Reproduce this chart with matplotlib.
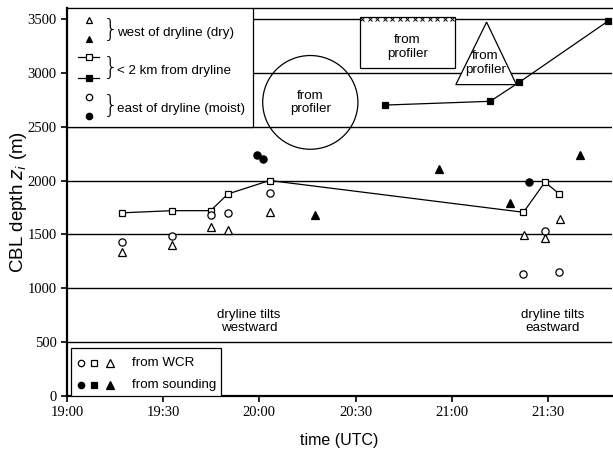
"""
CBL depth versus time near the dryline, from WCR, soundings and profiler
"""

import numpy as np
import matplotlib.pyplot as plt
from matplotlib.patches import Ellipse, Rectangle, Polygon

# time in minutes after 19:00 UTC, depth in m
wcr_near_t = [17.1, 32.8, 44.8, 50.2, 63.2, 142.4, 149.1, 153.6]
wcr_near_z = [1700, 1720, 1720, 1875, 2000, 1705, 1985, 1875]

wcr_east_t = [17.1, 32.8, 44.8, 50.2, 63.2, 149.1, 142.4, 153.6]
wcr_east_z = [1425, 1485, 1680, 1695, 1880, 1530, 1135, 1150]

wcr_west_t = [17.1, 32.8, 44.8, 50.2, 63.2, 142.6, 149.1, 153.7]
wcr_west_z = [1335, 1405, 1570, 1540, 1705, 1495, 1470, 1640]

snd_west_t = [77.3, 116.2, 138.1, 160.1]
snd_west_z = [1680, 2105, 1790, 2240]

snd_east_t = [59.2, 61.2, 144.0]
snd_east_z = [2240, 2195, 1990]

snd_near_t = [99.1, 132.0, 141.0, 168.8]
snd_near_z = [2700, 2735, 2910, 3480]

# profiler estimates (shapes marking the estimated range)
prof_circle = (75.9, 2725, 29.7, 870)          # centre t, centre z, width, height
prof_box = (91.3, 3040, 29.7, 475)             # left t, bottom z, width, height
prof_tri_t = [121.3, 130.9, 140.2]
prof_tri_z = [2890, 3470, 2890]

xticks = [0, 30, 60, 90, 120, 150]
xticklabels = ["19:00", "19:30", "20:00", "20:30", "21:00", "21:30"]
yticks = [0, 500, 1000, 1500, 2000, 2500, 3000, 3500]

sans = "Liberation Sans"
serif = "Liberation Serif"
fs = 9.6


def mark(ax, x, y, m, s, fc, **kw):
    ax.plot(x, y, marker=m, ms=s, mfc=fc, mec="k", mew=0.9, linestyle="none", **kw)


def main():
    fig = plt.figure(figsize=(6.13, 4.51), dpi=100)
    ax = fig.add_axes([0.1093, 0.122, 0.889, 0.860])

    for y in yticks[1:]:
        ax.axhline(y, color="k", lw=1.0, zorder=1)

    ax.plot(wcr_near_t, wcr_near_z, "k-", lw=0.9, zorder=3)
    mark(ax, wcr_near_t, wcr_near_z, "s", 4.2, "white", zorder=4)
    mark(ax, wcr_east_t, wcr_east_z, "o", 5.2, "white", zorder=4)
    mark(ax, wcr_west_t, wcr_west_z, "^", 5.5, "white", zorder=4)
    mark(ax, snd_west_t, snd_west_z, "^", 5.5, "k", zorder=4)
    mark(ax, snd_east_t, snd_east_z, "o", 5.2, "k", zorder=4)
    ax.plot(snd_near_t, snd_near_z, "k-", lw=0.9, zorder=3)
    mark(ax, snd_near_t, snd_near_z, "s", 4.2, "k", zorder=4)

    # profiler shapes
    ct, cz, cw, ch = prof_circle
    ax.add_patch(Ellipse((ct, cz), cw, ch, fill=False, ec="k", lw=0.9, zorder=3))
    ax.text(ct, cz, "from\nprofiler", ha="center", va="center", fontsize=fs,
            family=sans, linespacing=1.15)
    bt, bz, bw, bh = prof_box
    ax.add_patch(Rectangle((bt, bz), bw, bh, fill=True, fc="white", ec="k", lw=0.9, zorder=3))
    ax.plot(np.linspace(bt + 0.8, bt + bw - 0.8, 13), [3500] * 13, "kx", ms=3, mew=0.7, zorder=4)
    ax.text(bt + bw / 2, bz + bh * 0.42, "from\nprofiler", ha="center", va="center",
            fontsize=fs, family=sans, linespacing=1.15, zorder=5)
    ax.add_patch(Polygon(list(zip(prof_tri_t, prof_tri_z)), closed=True, fc="white",
                         ec="k", lw=0.9, zorder=2))
    ax.text(prof_tri_t[1] - 0.3, 3090, "from\nprofiler", ha="center", va="center",
            fontsize=fs, family=sans, linespacing=1.15, zorder=5)

    # top-left legend box
    tr = ax.transAxes
    ax.add_patch(Rectangle((0, 0.694), 0.341, 0.306, transform=tr, fc="white",
                           ec="k", lw=0.9, zorder=5))
    lx = 0.040
    mark(ax, [lx], [0.969], "^", 5, "white", transform=tr, zorder=6)
    mark(ax, [lx], [0.920], "^", 5, "k", transform=tr, zorder=6)
    for yy, fc in [(0.873, "white"), (0.820, "k")]:
        ax.plot([0.020, 0.059], [yy, yy], "k-", lw=0.9, transform=tr, zorder=6)
        mark(ax, [lx], [yy], "s", 4, fc, transform=tr, zorder=7)
    mark(ax, [lx], [0.772], "o", 4.6, "white", transform=tr, zorder=6)
    mark(ax, [lx], [0.722], "o", 4.6, "k", transform=tr, zorder=6)
    for yy, label in [(0.944, "west of dryline (dry)"), (0.846, "< 2 km from dryline"),
                      (0.747, "east of dryline (moist)")]:
        ax.text(0.066, yy, "}", transform=tr, ha="left", va="center", fontsize=18,
                family="DejaVu Sans", fontweight="light", zorder=6)
        ax.text(0.091, yy - 0.008, label, transform=tr, ha="left", va="center",
                fontsize=fs, family=sans, zorder=6)

    # bottom-left legend box
    ax.add_patch(Rectangle((0.0073, 0.0), 0.275, 0.123, transform=tr, fc="white",
                           ec="k", lw=0.9, zorder=5))
    for yy, fc, label in [(0.086, "white", "from WCR"), (0.028, "k", "from sounding")]:
        for xx, m, s in [(0.025, "o", 4.6), (0.050, "s", 4.0), (0.079, "^", 5.5)]:
            mark(ax, [xx], [yy], m, s, fc, transform=tr, zorder=6)
        ax.text(0.120, yy, label, transform=tr, ha="left", va="center", fontsize=fs,
                family=sans, zorder=6)

    ax.text(56.8, 690, "dryline tilts\nwestward", ha="center", va="center",
            fontsize=fs, family=sans, linespacing=1.15)
    ax.text(151.5, 690, "dryline tilts\neastward", ha="center", va="center",
            fontsize=fs, family=sans, linespacing=1.15)

    ax.set_xlim(0, 170)
    ax.set_ylim(0, 3600)
    ax.set_xticks(xticks)
    ax.set_xticklabels(xticklabels, family=serif, fontsize=10.5)
    ax.set_yticks(yticks)
    ax.set_yticklabels([str(v) for v in yticks], family=serif, fontsize=10.5)
    ax.tick_params(direction="out", length=4, width=1.2)
    for side in ["left", "bottom"]:
        ax.spines[side].set_linewidth(1.6)
    ax.spines["top"].set_linewidth(1.0)
    ax.spines["right"].set_visible(False)

    ax.set_xlabel("time (UTC)", family=sans, fontsize=11.5, labelpad=10)
    ax.set_ylabel("CBL depth $z_i$ (m)", family=sans, fontsize=13.5, labelpad=-1)

    fig.savefig("out.png", dpi=100)


if __name__ == "__main__":
    main()
